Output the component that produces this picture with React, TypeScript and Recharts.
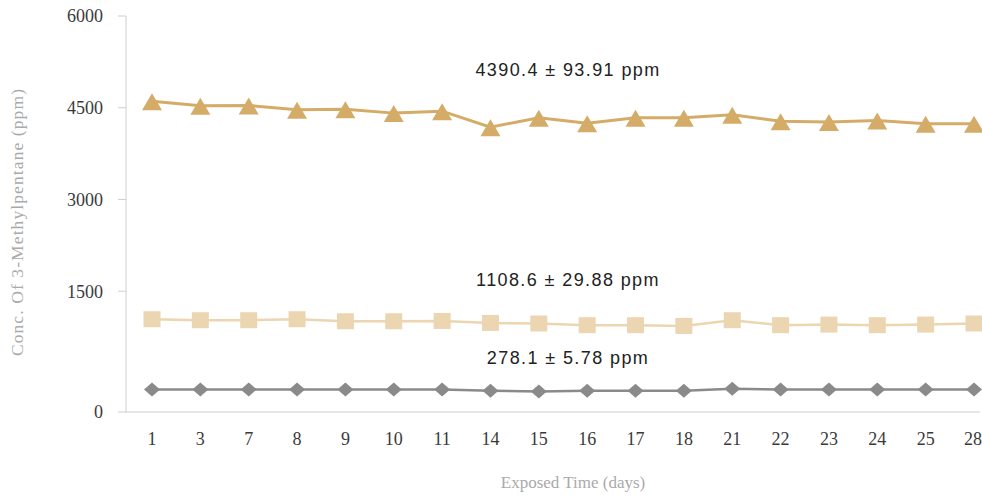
import React from 'react';
import { LineChart, Line, XAxis, YAxis } from 'recharts';

// Values (its value axis is broken: 0-1500 is stretched)
const days = ['1', '3', '7', '8', '9', '10', '11', '14', '15', '16', '17', '18', '21', '22', '23', '24', '25', '28'];
const highConc = [4608, 4533, 4537, 4467, 4477, 4412, 4444, 4183, 4337, 4248, 4337, 4337, 4386, 4281, 4265, 4292, 4239, 4239];
const midConc = [1152, 1140, 1140, 1152, 1127, 1127, 1131, 1106, 1099, 1078, 1078, 1069, 1140, 1078, 1086, 1078, 1086, 1099];
const lowConc = [280, 280, 280, 280, 280, 280, 280, 263, 256, 263, 263, 263, 288, 280, 280, 280, 280, 280];
const yTicks = [0, 1500, 3000, 4500, 6000];

const data = days.map((d, i) => ({ day: d, high: highConc[i], mid: midConc[i], low: lowConc[i] }));

const GOLD = '#d4ac68';
const SAND = '#ebd6b1';
const GREY = '#8a8a8a';

const serif = '"Liberation Serif", "DejaVu Serif", serif';
const sans = '"Liberation Sans", Arial, sans-serif';

// piecewise linear scale: the first 1500 takes ~30% of the axis height
const BREAK = 1500;
const BREAK_FRAC = 0.305;

function brokenScale(): any {
  let dom = [0, 6000];
  let rng = [0, 1];
  const s: any = (v: number) => {
    const [d0, d1] = dom;
    const [r0, r1] = rng;
    let f;
    if (v <= BREAK) f = ((v - d0) / (BREAK - d0)) * BREAK_FRAC;
    else f = BREAK_FRAC + ((v - BREAK) / (d1 - BREAK)) * (1 - BREAK_FRAC);
    return r0 + (r1 - r0) * f;
  };
  s.domain = (d?: number[]) => {
    if (d === undefined) return dom.slice();
    dom = d.slice();
    return s;
  };
  s.range = (r?: number[]) => {
    if (r === undefined) return rng.slice();
    rng = r.slice();
    return s;
  };
  s.ticks = () => yTicks;
  s.copy = () => brokenScale().domain(dom).range(rng);
  return s;
}

const TriangleDot = (props: any) => {
  const { cx, cy } = props;
  if (cx == null || cy == null) return null;
  return <polygon points={`${cx},${cy - 8} ${cx - 10},${cy + 9} ${cx + 10},${cy + 9}`} fill={GOLD} />;
};

const SquareDot = (props: any) => {
  const { cx, cy } = props;
  if (cx == null || cy == null) return null;
  return <rect x={cx - 8.5} y={cy - 8} width={17} height={16} fill={SAND} />;
};

const DiamondDot = (props: any) => {
  const { cx, cy } = props;
  if (cx == null || cy == null) return null;
  return <polygon points={`${cx},${cy - 7} ${cx + 8},${cy} ${cx},${cy + 7} ${cx - 8},${cy}`} fill={GREY} />;
};

const noteStyle: React.CSSProperties = {
  position: 'absolute',
  left: 568,
  transform: 'translate(-50%, -50%)',
  fontFamily: sans,
  fontSize: 18,
  letterSpacing: 1.4,
  color: '#222',
  whiteSpace: 'nowrap',
};

export default function App() {
  return (
    <div style={{ position: 'absolute', left: 0, top: 0, width: 982, height: 496, background: '#fff' }}>
      <LineChart width={982} height={496} data={data} margin={{ top: 16, right: 2, bottom: 0, left: 0 }}>
        <XAxis
          dataKey="day"
          height={84}
          padding={{ left: 26, right: 6 }}
          tickLine={false}
          axisLine={{ stroke: '#cfcfcf' }}
          tickMargin={14}
          tick={{ fill: '#3a3a3a', fontSize: 18, fontFamily: serif }}
          label={{
            value: 'Exposed Time (days)',
            position: 'insideBottom',
            offset: 8,
            dx: 20,
            fill: '#aaa',
            fontSize: 17,
            fontFamily: serif,
          }}
        />
        <YAxis
          width={126}
          type="number"
          scale={brokenScale()}
          domain={[0, 6000]}
          ticks={yTicks}
          interval={0}
          tickSize={8}
          tickMargin={15}
          tickLine={{ stroke: '#cfcfcf' }}
          axisLine={{ stroke: '#cfcfcf' }}
          tick={{ fill: '#3a3a3a', fontSize: 18, fontFamily: serif }}
          label={{
            value: 'Conc. Of 3-Methylpentane (ppm)',
            angle: -90,
            position: 'center',
            dx: -46,
            dy: 8,
            fill: '#aaa',
            fontSize: 17.5,
            fontFamily: serif,
            style: { letterSpacing: 1.1 },
          }}
        />
        <Line dataKey="high" stroke={GOLD} strokeWidth={3} dot={<TriangleDot />} activeDot={false} isAnimationActive={false} />
        <Line dataKey="mid" stroke={SAND} strokeWidth={2.5} dot={<SquareDot />} activeDot={false} isAnimationActive={false} />
        <Line dataKey="low" stroke={GREY} strokeWidth={2.5} dot={<DiamondDot />} activeDot={false} isAnimationActive={false} />
      </LineChart>
      <div style={{ ...noteStyle, top: 70 }}>4390.4 ± 93.91 ppm</div>
      <div style={{ ...noteStyle, top: 280 }}>1108.6 ± 29.88 ppm</div>
      <div style={{ ...noteStyle, top: 358 }}>278.1 ± 5.78 ppm</div>
    </div>
  );
}
